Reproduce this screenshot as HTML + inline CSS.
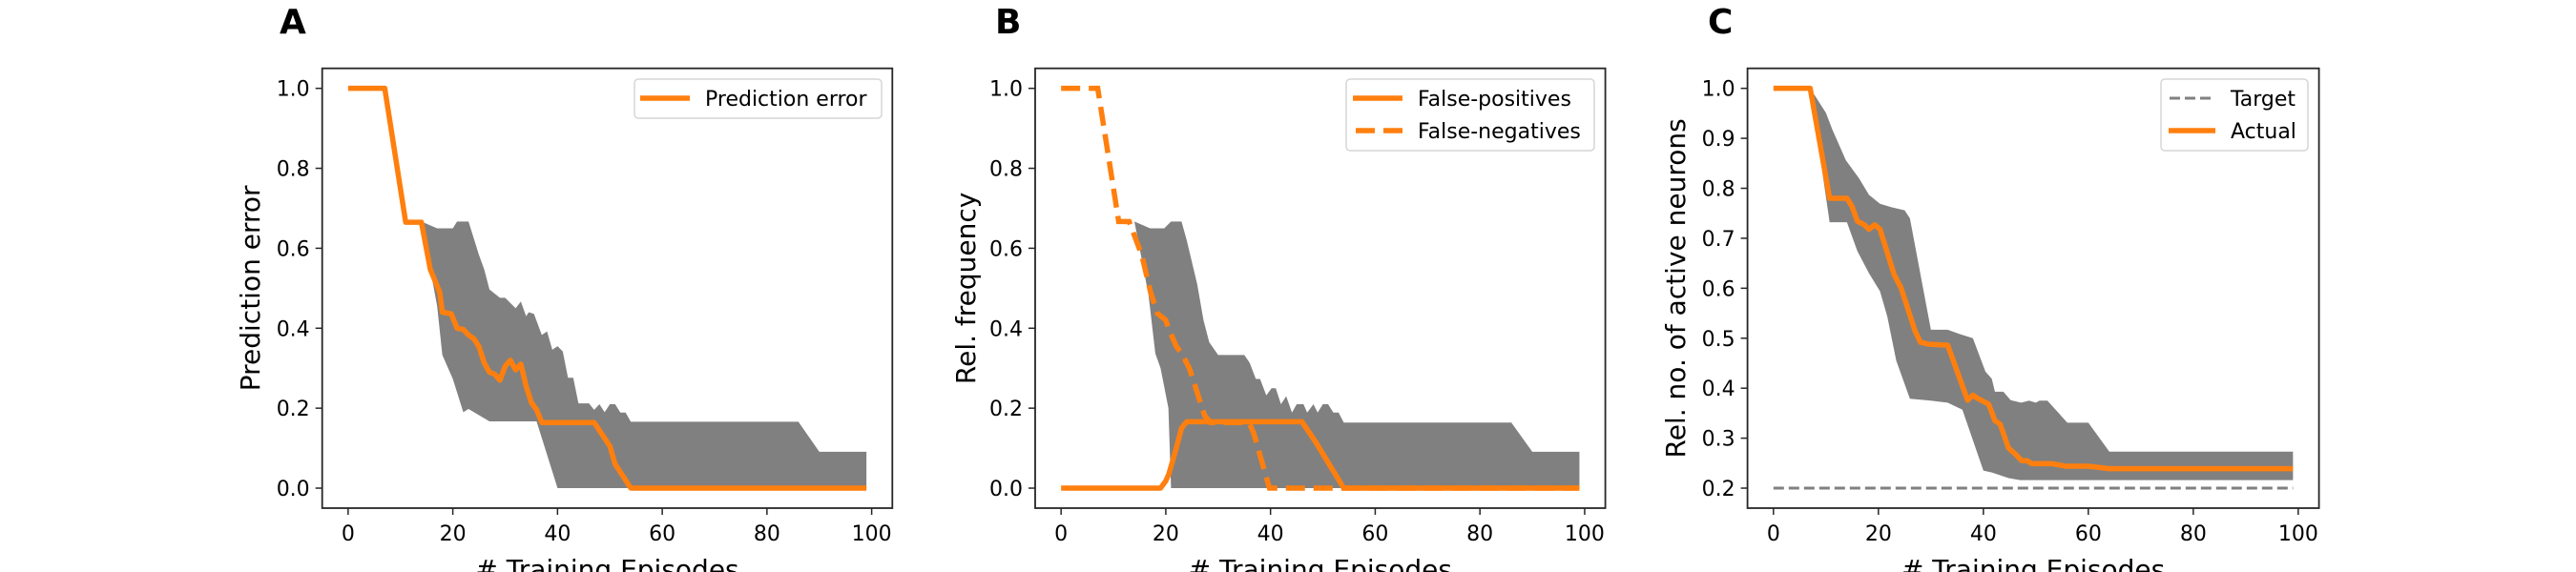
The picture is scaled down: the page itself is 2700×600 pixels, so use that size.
<!DOCTYPE html>
<html><head><meta charset="utf-8"><style>
html,body{margin:0;padding:0;background:#fff;}
svg{display:block;font-family:"DejaVu Sans","Liberation Sans",sans-serif;}
</style></head><body>
<svg id="fig" width="2700" height="600" viewBox="0 0 2700 600" xmlns="http://www.w3.org/2000/svg"></svg>
<script>
// ---- Data ----
const xTicks = [0, 20, 40, 60, 80, 100];
const yTicksAB = [0.0, 0.2, 0.4, 0.6, 0.8, 1.0];
const yTicksC = [0.2, 0.3, 0.4, 0.5, 0.6, 0.7, 0.8, 0.9, 1.0];

// Panel A
const aMeanX = [0,7,11,14,15.7,17.5,18,19.7,20.8,22,23,24,25,26,27,28,29,30,31,32,33,34,35,36,37,47,50,51,54,99];
const aMeanY = [1,1,0.665,0.665,0.547,0.49,0.44,0.436,0.40,0.397,0.383,0.374,0.354,0.313,0.29,0.285,0.27,0.305,0.32,0.296,0.31,0.255,0.214,0.196,0.164,0.164,0.105,0.06,0,0];
const aUpX = [0,7,11,14,17,20,20.8,23,25,26,27,29,30,32,33,34,34.5,35.5,37,38,39,40,41,42,43,44,46,47,48,49,50,51,52,53,54,86,90,99];
const aUpY = [1,1,0.665,0.667,0.65,0.65,0.667,0.667,0.583,0.547,0.497,0.476,0.476,0.45,0.467,0.43,0.44,0.436,0.383,0.392,0.346,0.355,0.342,0.276,0.276,0.212,0.212,0.196,0.21,0.19,0.21,0.21,0.189,0.189,0.166,0.166,0.091,0.091];
const aLoX = [0,7,11,14,15.7,17,18,20,22,23,27,36,40,99];
const aLoY = [1,1,0.665,0.665,0.547,0.456,0.333,0.273,0.19,0.198,0.167,0.167,0,0];

// Panel B
const bUpX = [0,14,17,19.7,21,23,24,26,27.2,28.3,30,35,36,37.2,38,39.2,40.2,41,42,43,44.1,45,46.3,47,48.2,49,50,51,52,53,54,86,90,99];
const bUpY = [0,0.667,0.65,0.65,0.667,0.667,0.62,0.51,0.42,0.365,0.333,0.333,0.314,0.273,0.273,0.232,0.25,0.25,0.21,0.23,0.189,0.21,0.21,0.189,0.21,0.189,0.21,0.21,0.189,0.189,0.164,0.164,0.091,0.091];
const bLoX = [14,15,16.7,18,19,20.5,21,99];
const bLoY = [0.667,0.6,0.483,0.337,0.3,0.2,0,0];
const fpX = [0,19,20,20.6,22,23,24,46,48.5,51,54,99];
const fpY = [0,0,0.018,0.036,0.1,0.15,0.166,0.166,0.118,0.064,0,0];
const fnX = [0,7,11,13,15.4,17.1,18.4,20,20.6,22,23.2,24.5,27.4,28.5,35.9,36.8,39.8,99];
const fnY = [1,1,0.667,0.667,0.583,0.49,0.437,0.42,0.397,0.355,0.333,0.3,0.182,0.164,0.164,0.137,0,0];

// Panel C
const cMeanX = [0,7,10.7,14,15,16,17.3,18.2,19.3,20.3,23,24.3,27,28,29.5,33.2,37,38,39,41,42.2,43.2,44.8,46,47.3,48.3,49.2,53,55.7,60,64,99];
const cMeanY = [1,1,0.78,0.78,0.763,0.734,0.727,0.718,0.727,0.718,0.627,0.601,0.514,0.492,0.488,0.486,0.376,0.386,0.379,0.368,0.335,0.328,0.28,0.269,0.255,0.255,0.249,0.249,0.244,0.244,0.239,0.239];
const cUpX = [0,7,10,11.2,13.8,16.3,18.2,20.3,22.5,25,26,30,33.2,35.6,38,40.4,41.6,42.2,43.8,45.2,47.2,48.7,50,50.7,52.2,56,60,64,99];
const cUpY = [1,1,0.951,0.918,0.856,0.82,0.787,0.769,0.762,0.756,0.74,0.517,0.517,0.508,0.5,0.433,0.419,0.393,0.393,0.376,0.371,0.375,0.371,0.375,0.375,0.331,0.331,0.273,0.273];
const cLoX = [0,7,10.7,14,16,18.2,20.3,21.7,23.4,26,30,33.2,36,40,41.7,44.8,47,99];
const cLoY = [1,1,0.732,0.732,0.674,0.63,0.594,0.543,0.455,0.379,0.375,0.371,0.357,0.235,0.231,0.22,0.216,0.216];
const targetX = [0,99];
const targetY = [0.2,0.2];

// ---- Drawing ----
const NS = "http://www.w3.org/2000/svg";
const svg = document.getElementById('fig');
const ORANGE = "#ff7f0e", GRAY = "#808080";
const LW = 5.5, DASH = '20 9', TLW = 3, TDASH = '11 5';
function el(tag, attrs, parent){
  const e = document.createElementNS(NS, tag);
  for (const k in attrs) e.setAttribute(k, attrs[k]);
  (parent||svg).appendChild(e);
  return e;
}
function makeAxes(left, top, w, h, ymin, ymax){
  const xlo=-4.95, xhi=103.95, yr=ymax-ymin, ylo=ymin-0.05*yr, yhi=ymax+0.05*yr;
  return {
    left, top, w, h,
    x: v => left + (v - xlo) / (xhi - xlo) * w,
    y: v => top + h - (v - ylo) / (yhi - ylo) * h
  };
}
function linePath(ax, xs, ys){
  return xs.map((v,i)=>(i?'L':'M')+ax.x(v).toFixed(2)+' '+ax.y(ys[i]).toFixed(2)).join(' ');
}
function bandPath(ax, ux, uy, lx, ly){
  let d = ux.map((v,i)=>(i?'L':'M')+ax.x(v).toFixed(2)+' '+ax.y(uy[i]).toFixed(2)).join(' ');
  for (let i=lx.length-1;i>=0;i--) d += ' L'+ax.x(lx[i]).toFixed(2)+' '+ax.y(ly[i]).toFixed(2);
  return d+' Z';
}
function frame(ax, g, yTicks, ylabel, ylabelX, letter, letterX){
  const f = el('rect',{x:ax.left,y:ax.top,width:ax.w,height:ax.h,fill:'none',stroke:'#262626','stroke-width':1.8},g);
  
  
  xTicks.forEach(t=>{
    const X = ax.x(t);
    const tk = el('line',{x1:X,x2:X,y1:ax.top+ax.h,y2:ax.top+ax.h+7,stroke:'#262626','stroke-width':1.5},g);
    
    
    const tl = el('text',{x:X,y:567,'font-size':22,'text-anchor':'middle',fill:'#000'},g);
    tl.textContent = t;
    
    
  });
  yTicks.forEach(t=>{
    const Y = ax.y(t);
    const tk = el('line',{x1:ax.left-7,x2:ax.left,y1:Y,y2:Y,stroke:'#262626','stroke-width':1.5},g);
    
    
    const tl = el('text',{x:ax.left-13,y:Y+8,'font-size':22,'text-anchor':'end',fill:'#000'},g);
    tl.textContent = t.toFixed(1);
    
    
  });
  const xl = el('text',{x:ax.left+ax.w/2,y:607,'font-size':28,'text-anchor':'middle',fill:'#000'},g);
  xl.textContent = '# Training Episodes';
  
  
  const cy = ax.top+ax.h/2;
  const yl = el('text',{x:ylabelX,y:cy,'font-size':28,'text-anchor':'middle',fill:'#000',transform:`rotate(-90 ${ylabelX} ${cy})`,dy:10},g);
  yl.textContent = ylabel;
  
  
  const lt = el('text',{x:letterX,y:35,'font-size':36,'font-weight':'bold',fill:'#000'},g);
  lt.textContent = letter;
  
  
}
function legendBox(g, x, y, w, h){
  const r = el('rect',{x,y,width:w,height:h,rx:4,fill:'#fff','fill-opacity':0.8,stroke:'#d6d6d6','stroke-width':1.5},g);
  
  
}
function legendEntry(g, x1, x2, y, label, stroke, dash, sw){
  const ln = el('line',{x1,x2,y1:y,y2:y,stroke,'stroke-width':sw},g);
  if (dash) ln.setAttribute('stroke-dasharray',dash);
  
  
  const t = el('text',{x:x2+16,y:y+8,'font-size':22,fill:'#000'},g);
  t.textContent = label;
  
  
}

// Panel A
{
  const g = el('g',{});
  
  
  const ax = makeAxes(337.7,71.7,597.6,461.3,0,1);
  const band = el('path',{d:bandPath(ax,aUpX,aUpY,aLoX,aLoY),fill:GRAY,stroke:'none'},g);
  
  
  const m = el('path',{d:linePath(ax,aMeanX,aMeanY),fill:'none',stroke:ORANGE,'stroke-width':LW,'stroke-linejoin':'round'},g);
  
  
  frame(ax,g,yTicksAB,'Prediction error',262,'A',293);
  legendBox(g,665,83,259,41);
  legendEntry(g,671,723,103,'Prediction error',ORANGE,null,LW);
}
// Panel B
{
  const g = el('g',{});
  
  
  const ax = makeAxes(1085,71.7,597.6,461.3,0,1);
  const band = el('path',{d:bandPath(ax,bUpX,bUpY,bLoX,bLoY),fill:GRAY,stroke:'none'},g);
  
  
  const fp = el('path',{d:linePath(ax,fpX,fpY),fill:'none',stroke:ORANGE,'stroke-width':LW,'stroke-linejoin':'round'},g);
  
  
  const fn = el('path',{d:linePath(ax,fnX,fnY),fill:'none',stroke:ORANGE,'stroke-width':LW,'stroke-dasharray':DASH},g);
  
  
  frame(ax,g,yTicksAB,'Rel. frequency',1012,'B',1043);
  legendBox(g,1411,83,260,75);
  legendEntry(g,1418,1470,103,'False-positives',ORANGE,null,LW);
  legendEntry(g,1421,1470,137,'False-negatives',ORANGE,DASH,LW);
}
// Panel C
{
  const g = el('g',{});
  
  
  const ax = makeAxes(1831.6,71.7,599,461.3,0.2,1);
  const band = el('path',{d:bandPath(ax,cUpX,cUpY,cLoX,cLoY),fill:GRAY,stroke:'none'},g);
  
  
  const tg = el('path',{d:linePath(ax,targetX,targetY),fill:'none',stroke:GRAY,'stroke-width':TLW,'stroke-dasharray':TDASH},g);
  
  
  const m = el('path',{d:linePath(ax,cMeanX,cMeanY),fill:'none',stroke:ORANGE,'stroke-width':LW,'stroke-linejoin':'round'},g);
  
  
  frame(ax,g,yTicksC,'Rel. no. of active neurons',1756,'C',1790);
  legendBox(g,2265,83,154,75);
  legendEntry(g,2274,2322,103,'Target',GRAY,TDASH,TLW);
  legendEntry(g,2273,2322,137,'Actual',ORANGE,null,LW);
}
</script>
</body></html>
